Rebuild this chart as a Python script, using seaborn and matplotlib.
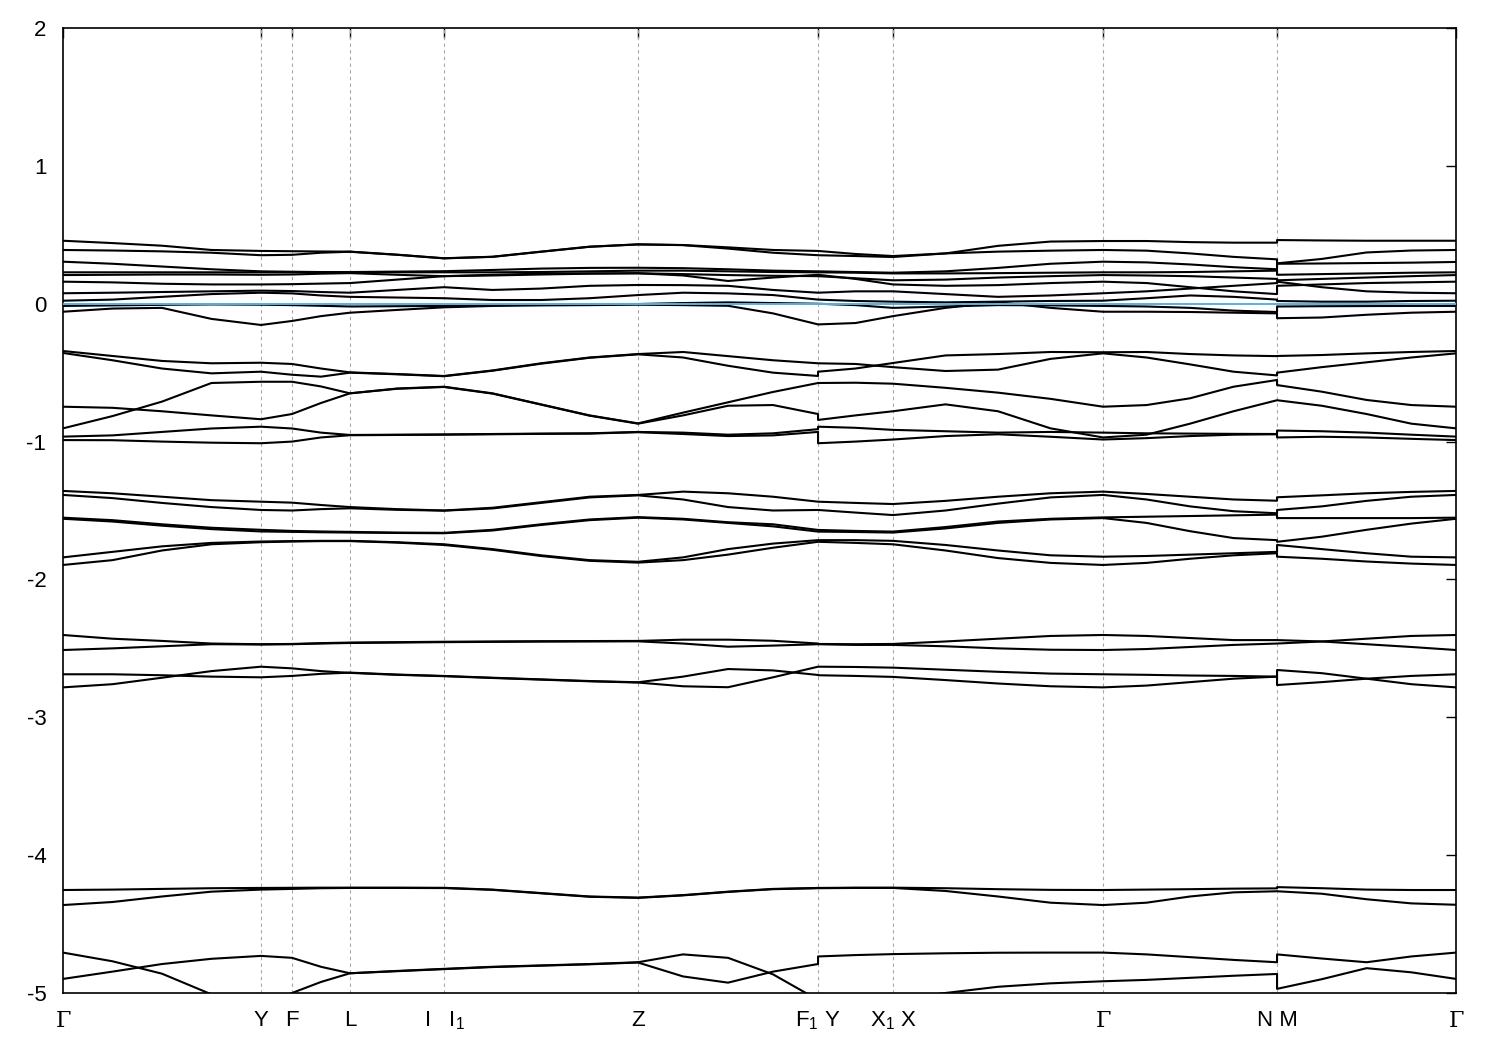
import numpy as np
import pandas as pd
import matplotlib.pyplot as plt
import seaborn as sns

# high-symmetry points, position along the path (fraction of total length)
sym_k = [0.0, 0.1421, 0.1644, 0.2060, 0.2735, 0.4128, 0.5420, 0.5958, 0.7466, 0.8715, 1.0]
sym_labels = ["Γ", "Y", "F", "L", "I   I$_1$", "Z", "F$_1$ Y", "X$_1$ X", "Γ", "N M", "Γ"]
# path segments: (from, to, samples, discontinuous start)
segments = [(0, 1, 5, False), (1, 2, 2, False), (2, 3, 3, False), (3, 4, 3, False),
            (4, 5, 5, False), (5, 6, 5, False), (6, 7, 3, True), (7, 8, 5, False),
            (8, 9, 5, False), (9, 10, 5, True)]

# band energies (eV) read at the sampled k-points
top_a = [0.457, 0.440, 0.421, 0.390, 0.383, 0.381, 0.379, 0.378, 0.356, 0.330, 0.341, 0.378, 0.414, 0.431, 0.426, 0.409, 0.390, 0.383, 0.383, 0.361, 0.346, 0.365, 0.420, 0.451, 0.455, 0.455, 0.447, 0.443, 0.443, 0.462, 0.459, 0.457, 0.457, 0.457]
top_b = [0.390, 0.386, 0.380, 0.370, 0.352, 0.355, 0.370, 0.377, 0.355, 0.329, 0.340, 0.377, 0.413, 0.430, 0.425, 0.400, 0.370, 0.352, 0.352, 0.346, 0.339, 0.365, 0.378, 0.385, 0.390, 0.385, 0.365, 0.340, 0.322, 0.293, 0.325, 0.372, 0.386, 0.390]
top_c = [0.305, 0.290, 0.270, 0.250, 0.235, 0.232, 0.230, 0.230, 0.233, 0.236, 0.245, 0.255, 0.260, 0.261, 0.258, 0.250, 0.240, 0.235, 0.235, 0.230, 0.225, 0.235, 0.260, 0.290, 0.305, 0.300, 0.285, 0.265, 0.250, 0.290, 0.292, 0.295, 0.298, 0.303]
top_d = [0.228, 0.228, 0.228, 0.228, 0.228, 0.228, 0.228, 0.228, 0.228, 0.228, 0.228, 0.230, 0.235, 0.240, 0.240, 0.235, 0.230, 0.228, 0.228, 0.225, 0.220, 0.220, 0.222, 0.225, 0.228, 0.228, 0.230, 0.235, 0.240, 0.210, 0.215, 0.220, 0.225, 0.228]
top_e = [0.208, 0.210, 0.212, 0.212, 0.210, 0.212, 0.218, 0.222, 0.210, 0.200, 0.205, 0.212, 0.218, 0.221, 0.215, 0.208, 0.203, 0.200, 0.200, 0.185, 0.170, 0.175, 0.190, 0.200, 0.208, 0.205, 0.200, 0.190, 0.180, 0.170, 0.180, 0.190, 0.200, 0.208]
top_f = [0.160, 0.155, 0.145, 0.140, 0.140, 0.142, 0.146, 0.150, 0.175, 0.200, 0.210, 0.218, 0.220, 0.221, 0.205, 0.165, 0.190, 0.210, 0.210, 0.180, 0.140, 0.130, 0.135, 0.150, 0.160, 0.150, 0.120, 0.090, 0.070, 0.130, 0.140, 0.150, 0.155, 0.160]
top_g = [0.076, 0.080, 0.085, 0.090, 0.095, 0.092, 0.085, 0.080, 0.100, 0.120, 0.100, 0.110, 0.130, 0.136, 0.135, 0.130, 0.100, 0.080, 0.080, 0.090, 0.090, 0.070, 0.050, 0.060, 0.076, 0.090, 0.110, 0.130, 0.150, 0.160, 0.120, 0.090, 0.080, 0.076]
top_h = [0.022, 0.030, 0.050, 0.070, 0.080, 0.075, 0.060, 0.050, 0.045, 0.040, 0.027, 0.027, 0.040, 0.063, 0.080, 0.075, 0.063, 0.030, 0.030, 0.020, 0.015, 0.010, 0.015, 0.020, 0.022, 0.040, 0.060, 0.050, 0.030, 0.020, 0.015, 0.015, 0.020, 0.022]
top_i = [-0.016, -0.012, -0.008, -0.005, -0.007, -0.010, -0.015, -0.020, -0.018, -0.016, -0.010, -0.005, -0.002, -0.002, 0.005, 0.010, 0.005, 0.000, 0.000, -0.010, -0.030, -0.020, -0.010, -0.012, -0.016, -0.020, -0.030, -0.050, -0.060, -0.020, -0.018, -0.017, -0.016, -0.016]
top_j = [-0.058, -0.035, -0.030, -0.110, -0.154, -0.125, -0.090, -0.065, -0.045, -0.026, -0.016, -0.012, -0.010, -0.007, -0.010, -0.015, -0.070, -0.150, -0.150, -0.140, -0.090, -0.030, 0.010, -0.030, -0.058, -0.058, -0.060, -0.065, -0.070, -0.105, -0.100, -0.080, -0.065, -0.058]

mid_p1 = [-0.343, -0.379, -0.415, -0.432, -0.428, -0.437, -0.470, -0.498, -0.510, -0.524, -0.484, -0.432, -0.390, -0.365, -0.350, -0.380, -0.410, -0.432, -0.432, -0.437, -0.460, -0.488, -0.478, -0.400, -0.360, -0.390, -0.440, -0.493, -0.520, -0.500, -0.460, -0.425, -0.390, -0.360]
mid_p2 = [-0.357, -0.410, -0.470, -0.505, -0.493, -0.515, -0.529, -0.500, -0.512, -0.526, -0.486, -0.435, -0.392, -0.367, -0.390, -0.450, -0.500, -0.524, -0.493, -0.470, -0.430, -0.375, -0.365, -0.350, -0.352, -0.350, -0.365, -0.375, -0.380, -0.379, -0.372, -0.360, -0.350, -0.343]
mid_q1 = [-0.747, -0.755, -0.780, -0.810, -0.838, -0.800, -0.720, -0.650, -0.615, -0.602, -0.650, -0.730, -0.810, -0.868, -0.790, -0.715, -0.640, -0.575, -0.575, -0.573, -0.580, -0.610, -0.645, -0.690, -0.747, -0.735, -0.686, -0.602, -0.553, -0.590, -0.638, -0.698, -0.735, -0.747]
mid_q2 = [-0.904, -0.815, -0.710, -0.575, -0.566, -0.566, -0.600, -0.650, -0.617, -0.604, -0.652, -0.732, -0.812, -0.870, -0.810, -0.740, -0.735, -0.800, -0.843, -0.810, -0.780, -0.730, -0.780, -0.904, -0.970, -0.950, -0.870, -0.780, -0.700, -0.700, -0.740, -0.800, -0.870, -0.904]
mid_s1 = [-0.964, -0.955, -0.930, -0.905, -0.892, -0.905, -0.935, -0.952, -0.950, -0.948, -0.945, -0.942, -0.940, -0.930, -0.935, -0.950, -0.940, -0.910, -0.892, -0.900, -0.915, -0.925, -0.935, -0.930, -0.935, -0.940, -0.942, -0.944, -0.945, -0.920, -0.925, -0.935, -0.950, -0.964]
mid_s2 = [-0.989, -0.990, -1.000, -1.008, -1.012, -1.000, -0.970, -0.954, -0.952, -0.950, -0.947, -0.944, -0.942, -0.932, -0.945, -0.960, -0.955, -0.930, -1.012, -1.000, -0.985, -0.960, -0.947, -0.965, -0.985, -0.975, -0.960, -0.950, -0.947, -0.970, -0.965, -0.970, -0.980, -0.989]

low_t1 = [-1.358, -1.375, -1.400, -1.425, -1.436, -1.443, -1.460, -1.475, -1.490, -1.500, -1.480, -1.440, -1.400, -1.387, -1.363, -1.375, -1.400, -1.436, -1.436, -1.445, -1.453, -1.430, -1.400, -1.375, -1.363, -1.380, -1.400, -1.420, -1.429, -1.404, -1.390, -1.375, -1.365, -1.358]
low_t2 = [-1.387, -1.410, -1.445, -1.475, -1.496, -1.500, -1.490, -1.484, -1.495, -1.501, -1.485, -1.445, -1.405, -1.390, -1.420, -1.475, -1.500, -1.496, -1.496, -1.515, -1.533, -1.500, -1.450, -1.405, -1.387, -1.420, -1.470, -1.505, -1.520, -1.496, -1.470, -1.430, -1.400, -1.387]
low_m1 = [-1.552, -1.570, -1.600, -1.625, -1.640, -1.648, -1.652, -1.655, -1.660, -1.662, -1.640, -1.600, -1.565, -1.548, -1.560, -1.585, -1.600, -1.641, -1.641, -1.648, -1.653, -1.620, -1.580, -1.560, -1.550, -1.545, -1.540, -1.535, -1.530, -1.555, -1.555, -1.555, -1.555, -1.552]
low_m2 = [-1.560, -1.580, -1.610, -1.635, -1.652, -1.655, -1.658, -1.660, -1.663, -1.665, -1.645, -1.605, -1.570, -1.552, -1.565, -1.590, -1.615, -1.653, -1.653, -1.656, -1.660, -1.630, -1.590, -1.565, -1.555, -1.590, -1.650, -1.700, -1.715, -1.727, -1.690, -1.640, -1.595, -1.560]
low_la = [-1.840, -1.800, -1.760, -1.735, -1.725, -1.722, -1.720, -1.720, -1.730, -1.745, -1.780, -1.825, -1.860, -1.872, -1.840, -1.780, -1.740, -1.715, -1.715, -1.715, -1.720, -1.750, -1.790, -1.825, -1.835, -1.830, -1.820, -1.810, -1.800, -1.750, -1.780, -1.810, -1.835, -1.840]
low_lb = [-1.895, -1.860, -1.790, -1.745, -1.730, -1.725, -1.722, -1.722, -1.733, -1.750, -1.785, -1.830, -1.865, -1.878, -1.860, -1.820, -1.770, -1.727, -1.727, -1.735, -1.745, -1.790, -1.845, -1.880, -1.895, -1.880, -1.850, -1.825, -1.810, -1.835, -1.850, -1.870, -1.885, -1.895]

deep_1 = [-2.403, -2.430, -2.446, -2.465, -2.470, -2.468, -2.462, -2.458, -2.455, -2.452, -2.450, -2.448, -2.447, -2.446, -2.437, -2.437, -2.445, -2.465, -2.468, -2.470, -2.468, -2.450, -2.430, -2.410, -2.403, -2.410, -2.425, -2.440, -2.440, -2.440, -2.450, -2.470, -2.490, -2.512]
deep_2 = [-2.512, -2.500, -2.485, -2.470, -2.472, -2.470, -2.465, -2.461, -2.458, -2.455, -2.453, -2.451, -2.450, -2.449, -2.465, -2.488, -2.480, -2.470, -2.470, -2.475, -2.475, -2.485, -2.500, -2.510, -2.512, -2.505, -2.490, -2.475, -2.465, -2.465, -2.450, -2.430, -2.410, -2.403]
deep_3 = [-2.688, -2.688, -2.695, -2.705, -2.710, -2.700, -2.685, -2.676, -2.690, -2.700, -2.713, -2.725, -2.737, -2.746, -2.705, -2.650, -2.660, -2.693, -2.695, -2.700, -2.707, -2.730, -2.755, -2.775, -2.783, -2.770, -2.745, -2.720, -2.705, -2.766, -2.745, -2.720, -2.700, -2.688]
deep_4 = [-2.783, -2.760, -2.713, -2.665, -2.633, -2.645, -2.665, -2.678, -2.692, -2.702, -2.715, -2.727, -2.739, -2.748, -2.775, -2.782, -2.710, -2.633, -2.633, -2.635, -2.640, -2.655, -2.670, -2.683, -2.688, -2.692, -2.697, -2.700, -2.705, -2.657, -2.680, -2.720, -2.760, -2.783]

core_u = [-4.253, -4.250, -4.245, -4.240, -4.238, -4.237, -4.236, -4.236, -4.236, -4.237, -4.250, -4.275, -4.300, -4.308, -4.290, -4.265, -4.245, -4.238, -4.238, -4.236, -4.236, -4.240, -4.247, -4.252, -4.253, -4.250, -4.247, -4.243, -4.241, -4.232, -4.240, -4.250, -4.253, -4.253]
core_l = [-4.362, -4.340, -4.300, -4.265, -4.250, -4.245, -4.240, -4.238, -4.238, -4.239, -4.252, -4.277, -4.302, -4.310, -4.292, -4.267, -4.247, -4.240, -4.240, -4.238, -4.238, -4.260, -4.300, -4.345, -4.362, -4.345, -4.300, -4.270, -4.262, -4.262, -4.280, -4.320, -4.350, -4.360]
core_b1 = [-4.707, -4.770, -4.860, -5.010, -5.120, -5.000, -4.920, -4.857, -4.840, -4.825, -4.810, -4.800, -4.790, -4.777, -4.720, -4.745, -4.865, -5.050, -5.150, -5.100, -5.050, -5.000, -4.955, -4.930, -4.915, -4.905, -4.890, -4.875, -4.862, -4.970, -4.900, -4.820, -4.850, -4.898]
core_b2 = [-4.898, -4.845, -4.790, -4.752, -4.731, -4.745, -4.810, -4.857, -4.842, -4.827, -4.812, -4.802, -4.792, -4.779, -4.880, -4.925, -4.845, -4.790, -4.735, -4.725, -4.718, -4.712, -4.708, -4.707, -4.707, -4.720, -4.740, -4.760, -4.777, -4.720, -4.750, -4.777, -4.735, -4.707]

bands = [top_a, top_b, top_c, top_d, top_e, top_f, top_g, top_h, top_i, top_j,
         mid_p1, mid_p2, mid_q1, mid_q2, mid_s1, mid_s2,
         low_t1, low_t2, low_m1, low_m2, low_la, low_lb,
         deep_1, deep_2, deep_3, deep_4,
         core_u, core_l, core_b1, core_b2]

# k sampling along the path
kpts = []
for n, (a, b, npts, jump) in enumerate(segments):
    seg = np.linspace(sym_k[a], sym_k[b], npts)
    if n > 0 and not jump:
        seg = seg[1:]
    kpts.extend(seg)

rows = []
for ib, en in enumerate(bands):
    for order, (k, e) in enumerate(zip(kpts, en)):
        rows.append({"band": ib, "order": order, "k": k, "E": e})
df = pd.DataFrame(rows)

sns.set_theme(style="white")
plt.rcParams["font.family"] = ["Liberation Sans", "DejaVu Sans"]
plt.rcParams["mathtext.fontset"] = "custom"
plt.rcParams["mathtext.rm"] = "Liberation Sans"
plt.rcParams["mathtext.it"] = "Liberation Sans"
plt.rcParams["axes.unicode_minus"] = False

fig = plt.figure(figsize=(15, 10.5), dpi=100)
ax = fig.add_axes([0.042, 0.0543, 0.9287, 0.919])

for k in sym_k[1:-1]:
    ax.axvline(k, color="#a8a8a8", lw=0.8, ls=(0, (3, 3)), zorder=1)

sns.lineplot(data=df, x="k", y="E", units="band", estimator=None, sort=False,
             color="black", lw=1.5, ax=ax, zorder=2, legend=False)
ax.axhline(0, color="#56b0e4", lw=1.4, zorder=3)

ax.set_xlim(0, 1)
ax.set_ylim(-5, 2)
ax.set_yticks([2, 1, 0, -1, -2, -3, -4, -5])
ax.set_xticks(sym_k)
ax.set_xticklabels(sym_labels)
for i, lab in enumerate(ax.get_xticklabels()):
    if sym_labels[i] == "Γ":
        lab.set_fontfamily("DejaVu Serif")
ax.set_xlabel("")
ax.set_ylabel("")
ax.tick_params(axis="both", direction="in", length=7, width=1, labelsize=16,
               top=True, right=True, colors="black")
ax.tick_params(axis="x", pad=12)
ax.tick_params(axis="y", pad=12)
for sp in ax.spines.values():
    sp.set_color("black")
    sp.set_linewidth(1.2)

fig.savefig("out.png", dpi=100, facecolor="white")
